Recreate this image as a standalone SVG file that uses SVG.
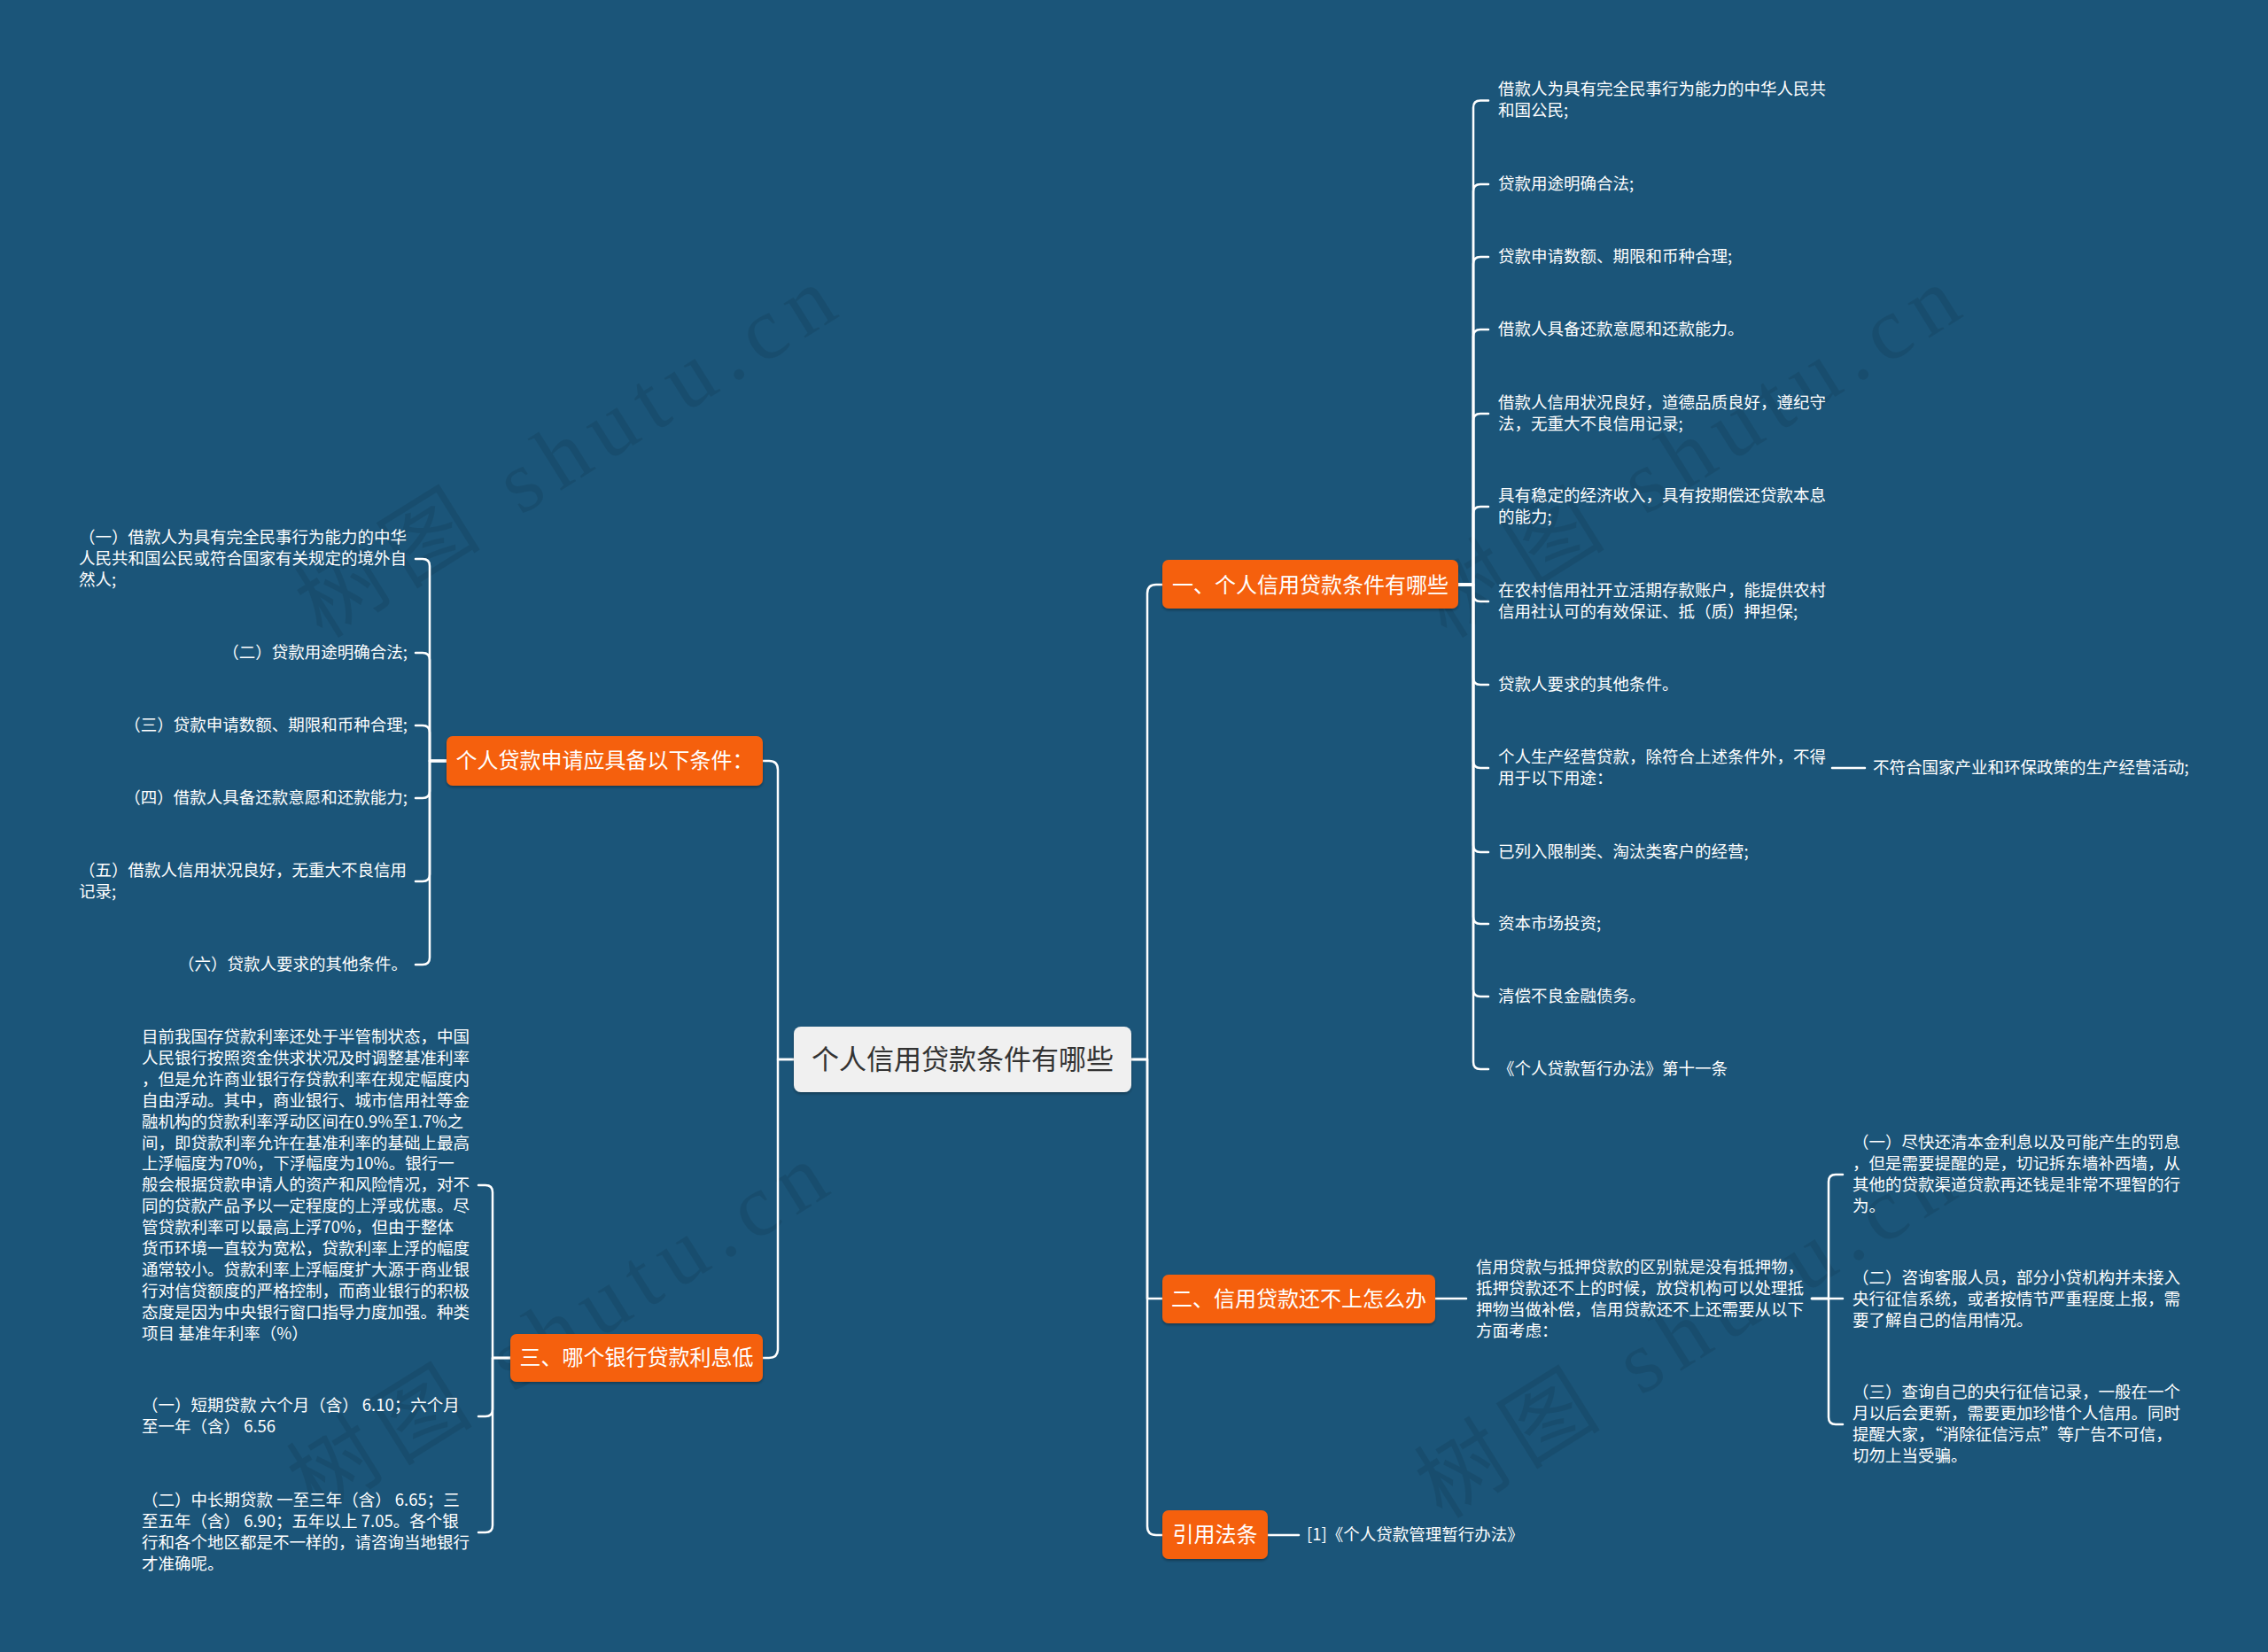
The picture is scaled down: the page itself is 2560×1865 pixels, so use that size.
<svg xmlns="http://www.w3.org/2000/svg" width="2560" height="1865" viewBox="0 0 2560 1865">
<defs>
<style>
.bg{fill:#1b5579}
.wm{font-family:"Liberation Serif","Noto Sans CJK SC",serif;font-size:100px;fill:#000;fill-opacity:0.09}
.edge{fill:none;stroke:#ffffff;stroke-width:2.5;stroke-linecap:round;stroke-linejoin:round}
.box{fill:#f5600a}
.root{fill:#f0f0f0}
.t{font-family:"Noto Sans CJK SC","Noto Sans CJK JP",sans-serif;dominant-baseline:central;transform:translateY(-2.5px)}
.tb{font-size:24px;fill:#ffffff}
.tr{font-size:31px;fill:#333333}
.tl{font-size:18.5px;fill:#ffffff}
</style>
<filter id="sh" x="-10%" y="-20%" width="120%" height="150%">
<feDropShadow dx="0" dy="2" stdDeviation="1.5" flood-color="#000" flood-opacity="0.3"/>
</filter>
</defs>
<rect class="bg" x="0" y="0" width="2560" height="1865"/>
<g id="watermarks">
<text class="wm" transform="translate(364,722) rotate(-32)" textLength="690" lengthAdjust="spacing">树图 shutu.cn</text>
<text class="wm" transform="translate(1633,722) rotate(-32)" textLength="690" lengthAdjust="spacing">树图 shutu.cn</text>
<text class="wm" transform="translate(355,1712) rotate(-32)" textLength="690" lengthAdjust="spacing">树图 shutu.cn</text>
<text class="wm" transform="translate(1628,1716) rotate(-32)" textLength="690" lengthAdjust="spacing">树图 shutu.cn</text>
</g>
<g id="connectors">
<path class="edge" d="M1277,1196 H1295 V670 Q1295,660 1305,660 H1312"/>
<path class="edge" d="M1277,1196 H1295 V1466 H1312"/>
<path class="edge" d="M1277,1196 H1295 V1723 Q1295,1733 1305,1733 H1312"/>
<path class="edge" d="M896,1196 H878 V869 Q878,859 868,859 H861"/>
<path class="edge" d="M896,1196 H878 V1523 Q878,1533 868,1533 H861"/>
<path class="edge" d="M1646,660 H1663 V121.5 Q1663,113.5 1671,113.5 H1680"/>
<path class="edge" d="M1646,660 H1663 V216 Q1663,208 1671,208 H1680"/>
<path class="edge" d="M1646,660 H1663 V298 Q1663,290 1671,290 H1680"/>
<path class="edge" d="M1646,660 H1663 V380 Q1663,372 1671,372 H1680"/>
<path class="edge" d="M1646,660 H1663 V475 Q1663,467 1671,467 H1680"/>
<path class="edge" d="M1646,660 H1663 V580 Q1663,572 1671,572 H1680"/>
<path class="edge" d="M1646,660 H1663 V671 Q1663,679 1671,679 H1680"/>
<path class="edge" d="M1646,660 H1663 V765 Q1663,773 1671,773 H1680"/>
<path class="edge" d="M1646,660 H1663 V859 Q1663,867 1671,867 H1680"/>
<path class="edge" d="M1646,660 H1663 V954 Q1663,962 1671,962 H1680"/>
<path class="edge" d="M1646,660 H1663 V1035 Q1663,1043 1671,1043 H1680"/>
<path class="edge" d="M1646,660 H1663 V1117 Q1663,1125 1671,1125 H1680"/>
<path class="edge" d="M1646,660 H1663 V1199 Q1663,1207 1671,1207 H1680"/>
<path class="edge" d="M2068,867 H2105"/>
<path class="edge" d="M1620,1466 H1655"/>
<path class="edge" d="M2045,1466 H2064 V1334 Q2064,1326 2072,1326 H2080"/>
<path class="edge" d="M2045,1466 H2080"/>
<path class="edge" d="M2045,1466 H2064 V1600 Q2064,1608 2072,1608 H2080"/>
<path class="edge" d="M1431,1733 H1466"/>
<path class="edge" d="M504,859 H485 V639 Q485,631 477,631 H469"/>
<path class="edge" d="M504,859 H485 V745 Q485,737 477,737 H469"/>
<path class="edge" d="M504,859 H485 V827 Q485,819 477,819 H469"/>
<path class="edge" d="M504,859 H485 V893 Q485,901 477,901 H469"/>
<path class="edge" d="M504,859 H485 V987 Q485,995 477,995 H469"/>
<path class="edge" d="M504,859 H485 V1081 Q485,1089 477,1089 H469"/>
<path class="edge" d="M576,1533 H556 V1346 Q556,1338 548,1338 H540"/>
<path class="edge" d="M576,1533 H556 V1591 Q556,1599 548,1599 H540"/>
<path class="edge" d="M576,1533 H556 V1722 Q556,1730 548,1730 H540"/>
</g>
<g id="root">
<rect class="root" x="896" y="1159" width="381" height="74" rx="8" filter="url(#sh)"/>
<text class="t tr" x="1086.5" y="1196" text-anchor="middle">个人信用贷款条件有哪些</text>
</g>
<g id="n1">
<rect class="box" x="1312" y="632" width="334" height="55" rx="7" filter="url(#sh)"/>
<text class="t tb" x="1479" y="661" text-anchor="middle">一、个人信用贷款条件有哪些</text>
</g>
<g id="n1c1"><text class="t tl"><tspan x="1691" y="101.5">借款人为具有完全民事行为能力的中华人民共</tspan><tspan x="1691" y="125.5">和国公民;</tspan></text></g>
<g id="n1c2"><text class="t tl" x="1691" y="208">贷款用途明确合法;</text></g>
<g id="n1c3"><text class="t tl" x="1691" y="290">贷款申请数额、期限和币种合理;</text></g>
<g id="n1c4"><text class="t tl" x="1691" y="372">借款人具备还款意愿和还款能力。</text></g>
<g id="n1c5"><text class="t tl"><tspan x="1691" y="455">借款人信用状况良好，道德品质良好，遵纪守</tspan><tspan x="1691" y="479">法，无重大不良信用记录;</tspan></text></g>
<g id="n1c6"><text class="t tl"><tspan x="1691" y="560">具有稳定的经济收入，具有按期偿还贷款本息</tspan><tspan x="1691" y="584">的能力;</tspan></text></g>
<g id="n1c7"><text class="t tl"><tspan x="1691" y="667">在农村信用社开立活期存款账户，能提供农村</tspan><tspan x="1691" y="691">信用社认可的有效保证、抵（质）押担保;</tspan></text></g>
<g id="n1c8"><text class="t tl" x="1691" y="773">贷款人要求的其他条件。</text></g>
<g id="n1c9"><text class="t tl"><tspan x="1691" y="855">个人生产经营贷款，除符合上述条件外，不得</tspan><tspan x="1691" y="879">用于以下用途：</tspan></text></g>
<g id="n1c9a"><text class="t tl" x="2114" y="867">不符合国家产业和环保政策的生产经营活动;</text></g>
<g id="n1c10"><text class="t tl" x="1691" y="962">已列入限制类、淘汰类客户的经营;</text></g>
<g id="n1c11"><text class="t tl" x="1691" y="1043">资本市场投资;</text></g>
<g id="n1c12"><text class="t tl" x="1691" y="1125">清偿不良金融债务。</text></g>
<g id="n1c13"><text class="t tl" x="1691" y="1207">《个人贷款暂行办法》第十一条</text></g>
<g id="n2">
<rect class="box" x="1312" y="1439" width="308" height="55" rx="7" filter="url(#sh)"/>
<text class="t tb" x="1466" y="1467" text-anchor="middle">二、信用贷款还不上怎么办</text>
</g>
<g id="n2c"><text class="t tl"><tspan x="1666" y="1431">信用贷款与抵押贷款的区别就是没有抵押物，</tspan><tspan x="1666" y="1455">抵押贷款还不上的时候，放贷机构可以处理抵</tspan><tspan x="1666" y="1479">押物当做补偿，信用贷款还不上还需要从以下</tspan><tspan x="1666" y="1503">方面考虑：</tspan></text></g>
<g id="n2c1"><text class="t tl"><tspan x="2091" y="1290">（一）尽快还清本金利息以及可能产生的罚息</tspan><tspan x="2091" y="1314">，但是需要提醒的是，切记拆东墙补西墙，从</tspan><tspan x="2091" y="1338">其他的贷款渠道贷款再还钱是非常不理智的行</tspan><tspan x="2091" y="1362">为。</tspan></text></g>
<g id="n2c2"><text class="t tl"><tspan x="2091" y="1443">（二）咨询客服人员，部分小贷机构并未接入</tspan><tspan x="2091" y="1467">央行征信系统，或者按情节严重程度上报，需</tspan><tspan x="2091" y="1491">要了解自己的信用情况。</tspan></text></g>
<g id="n2c3"><text class="t tl"><tspan x="2091" y="1572">（三）查询自己的央行征信记录，一般在一个</tspan><tspan x="2091" y="1596">月以后会更新，需要更加珍惜个人信用。同时</tspan><tspan x="2091" y="1620">提醒大家，“消除征信污点”等广告不可信，</tspan><tspan x="2091" y="1644">切勿上当受骗。</tspan></text></g>
<g id="n4">
<rect class="box" x="1312" y="1705" width="119" height="55" rx="7" filter="url(#sh)"/>
<text class="t tb" x="1371.5" y="1733" text-anchor="middle">引用法条</text>
</g>
<g id="n4c"><text class="t tl" x="1475" y="1733">[1]《个人贷款管理暂行办法》</text></g>
<g id="l1">
<rect class="box" x="504" y="831" width="357" height="56" rx="7" filter="url(#sh)"/>
<text class="t tb" x="682.5" y="859" text-anchor="middle">个人贷款申请应具备以下条件：</text>
</g>
<g id="l1c1"><text class="t tl"><tspan x="89" y="607">（一）借款人为具有完全民事行为能力的中华</tspan><tspan x="89" y="631">人民共和国公民或符合国家有关规定的境外自</tspan><tspan x="89" y="655">然人;</tspan></text></g>
<g id="l1c2"><text class="t tl" x="460" y="737" text-anchor="end">（二）贷款用途明确合法;</text></g>
<g id="l1c3"><text class="t tl" x="460" y="819" text-anchor="end">（三）贷款申请数额、期限和币种合理;</text></g>
<g id="l1c4"><text class="t tl" x="460" y="901" text-anchor="end">（四）借款人具备还款意愿和还款能力;</text></g>
<g id="l1c5"><text class="t tl"><tspan x="89" y="983">（五）借款人信用状况良好，无重大不良信用</tspan><tspan x="89" y="1007">记录;</tspan></text></g>
<g id="l1c6"><text class="t tl" x="460" y="1089" text-anchor="end">（六）贷款人要求的其他条件。</text></g>
<g id="l3">
<rect class="box" x="576" y="1506" width="285" height="54" rx="7" filter="url(#sh)"/>
<text class="t tb" x="718.5" y="1533" text-anchor="middle">三、哪个银行贷款利息低</text>
</g>
<g id="l3c1"><text class="t tl"><tspan x="160" y="1171">目前我国存贷款利率还处于半管制状态，中国</tspan><tspan x="160" y="1195">人民银行按照资金供求状况及时调整基准利率</tspan><tspan x="160" y="1219">，但是允许商业银行存贷款利率在规定幅度内</tspan><tspan x="160" y="1243">自由浮动。其中，商业银行、城市信用社等金</tspan><tspan x="160" y="1267">融机构的贷款利率浮动区间在0.9%至1.7%之</tspan><tspan x="160" y="1291">间，即贷款利率允许在基准利率的基础上最高</tspan><tspan x="160" y="1314">上浮幅度为70%，下浮幅度为10%。银行一</tspan><tspan x="160" y="1338">般会根据贷款申请人的资产和风险情况，对不</tspan><tspan x="160" y="1362">同的贷款产品予以一定程度的上浮或优惠。尽</tspan><tspan x="160" y="1386">管贷款利率可以最高上浮70%，但由于整体</tspan><tspan x="160" y="1410">货币环境一直较为宽松，贷款利率上浮的幅度</tspan><tspan x="160" y="1434">通常较小。贷款利率上浮幅度扩大源于商业银</tspan><tspan x="160" y="1458">行对信贷额度的严格控制，而商业银行的积极</tspan><tspan x="160" y="1482">态度是因为中央银行窗口指导力度加强。种类</tspan><tspan x="160" y="1506">项目 基准年利率（%）</tspan></text></g>
<g id="l3c2"><text class="t tl"><tspan x="160" y="1587">（一）短期贷款 六个月（含） 6.10；六个月</tspan><tspan x="160" y="1611">至一年（含） 6.56</tspan></text></g>
<g id="l3c3"><text class="t tl"><tspan x="160" y="1694">（二）中长期贷款 一至三年（含） 6.65；三</tspan><tspan x="160" y="1718">至五年（含） 6.90；五年以上 7.05。各个银</tspan><tspan x="160" y="1742">行和各个地区都是不一样的，请咨询当地银行</tspan><tspan x="160" y="1766">才准确呢。</tspan></text></g>
</svg>
